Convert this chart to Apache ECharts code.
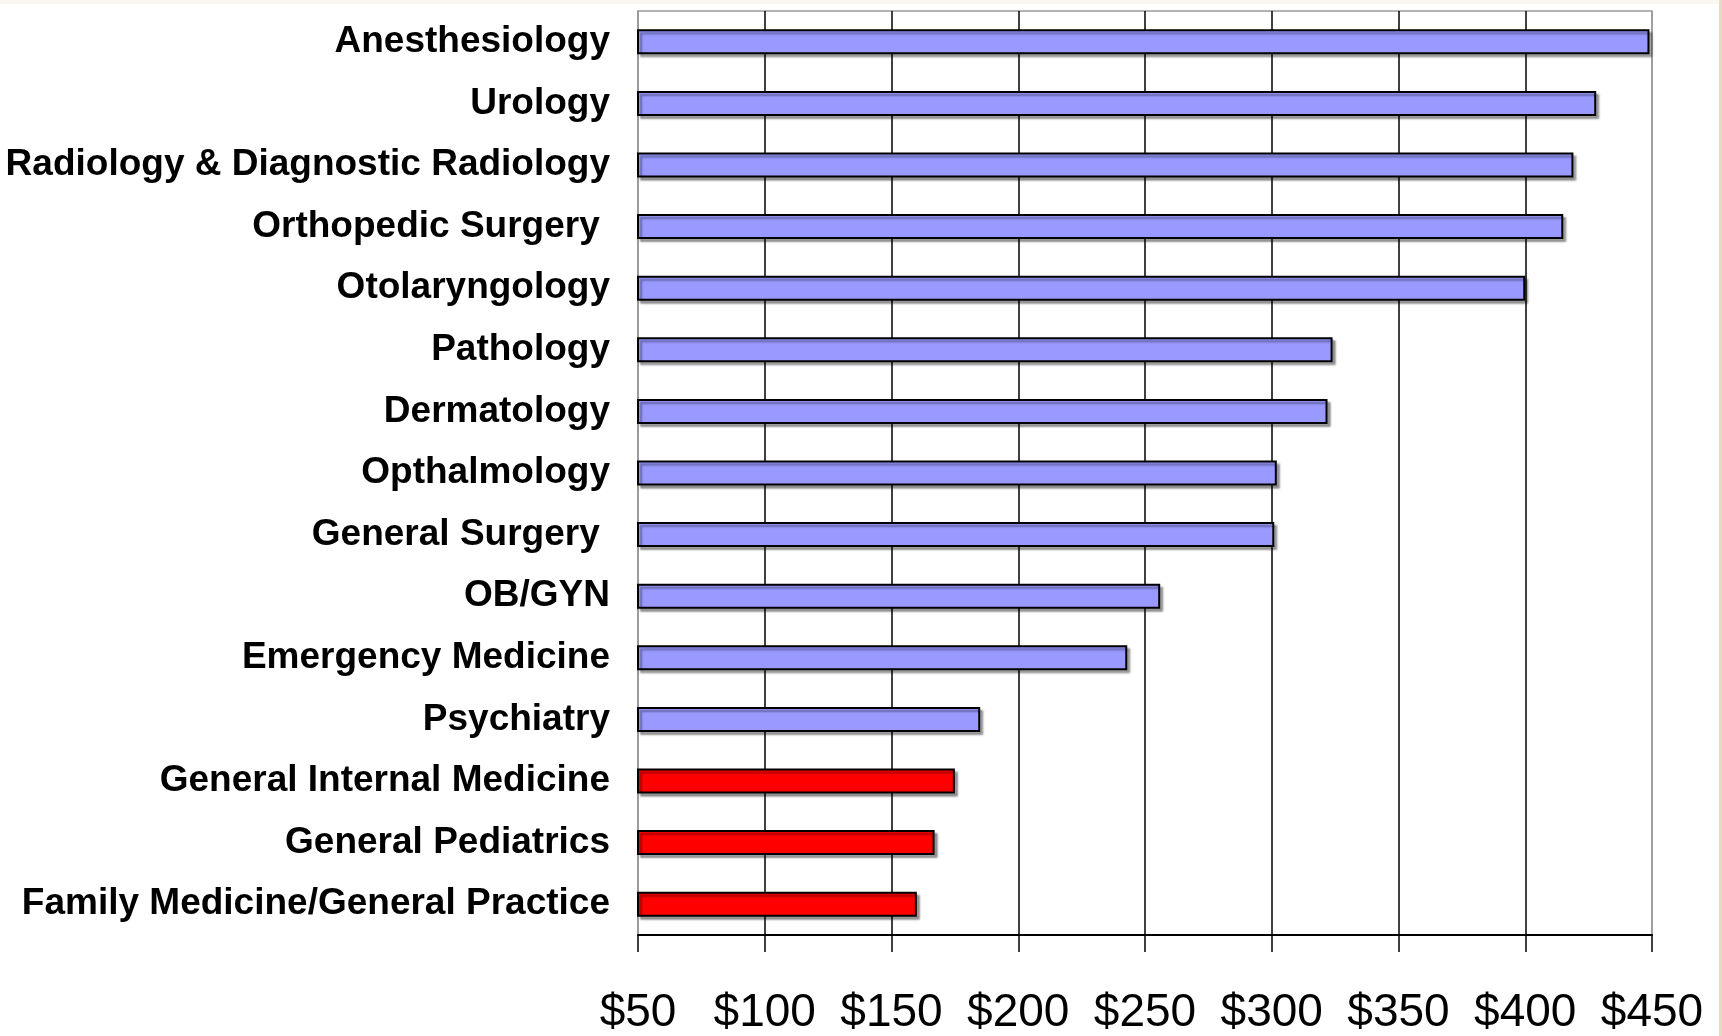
<!DOCTYPE html>
<html>
<head>
<meta charset="utf-8">
<script src="https://cdn.jsdelivr.net/npm/echarts@6/dist/echarts.min.js"></script>
<style>
  html, body { margin: 0; padding: 0; background: #ffffff; }
  #chart { width: 1722px; height: 1036px; }
</style>
</head>
<body>
<div id="chart"></div>
<script>
// Categories, top to bottom
const specialties = [
  "Anesthesiology",
  "Urology",
  "Radiology & Diagnostic Radiology",
  "Orthopedic Surgery ",
  "Otolaryngology",
  "Pathology",
  "Dermatology",
  "Opthalmology",
  "General Surgery ",
  "OB/GYN",
  "Emergency Medicine",
  "Psychiatry",
  "General Internal Medicine",
  "General Pediatrics",
  "Family Medicine/General Practice"
];
// Values in dollars
const values = [449, 428, 419, 415, 400, 324, 322, 302, 301, 256, 243, 185, 175, 167, 160];
// Primary-care categories (drawn in red)
const primaryCare = ["General Internal Medicine", "General Pediatrics", "Family Medicine/General Practice"];
// Axis tick range
const axisMin = 50;
const axisMax = 450;
const axisStep = 50;

const chart = echarts.init(document.getElementById('chart'), null, { renderer: 'canvas' });

const gridLineColors = [];
for (let v = axisMin; v <= axisMax; v += axisStep) {
  gridLineColors.push(v === axisMin || v === axisMax ? '#9a9a9a' : '#000000');
}

chart.setOption({
  backgroundColor: '#ffffff',
  animation: false,
  graphic: [
    { type: 'rect', shape: { x: 0, y: 0, width: 1722, height: 4 }, style: { fill: '#faf6f0' }, silent: true },
    { type: 'rect', shape: { x: 1719, y: 0, width: 3, height: 1036 }, style: { fill: '#e6dac4' }, silent: true }
  ],
  grid: {
    left: 638, right: 70, top: 11, bottom: 101,
    show: true, borderColor: '#9a9a9a', borderWidth: 1.5, backgroundColor: '#ffffff'
  },
  xAxis: {
    type: 'value',
    min: axisMin, max: axisMax, interval: axisStep,
    axisLine: { show: true, lineStyle: { color: '#000', width: 2 } },
    axisTick: { show: true, length: 17, lineStyle: { color: '#000', width: 1.5 } },
    splitLine: { show: true, lineStyle: { color: gridLineColors, width: 1.5 } },
    axisLabel: {
      margin: 55,
      fontFamily: 'Liberation Sans, Arial, sans-serif',
      fontSize: 46,
      color: '#000',
      formatter: v => '$' + v
    }
  },
  yAxis: {
    type: 'category',
    inverse: true,
    data: specialties,
    axisLine: { show: true, lineStyle: { color: '#9a9a9a', width: 1.5 } },
    axisTick: { show: false },
    axisLabel: {
      margin: 28,
      fontFamily: 'Liberation Sans, Arial, sans-serif',
      fontWeight: 'bold',
      fontSize: 37,
      color: '#000',
      padding: [4, 0, 0, 0]
    }
  },
  series: [{
    type: 'bar',
    data: values,
    barWidth: 25,
    clip: true,
    itemStyle: {
      color: p => primaryCare.includes(specialties[p.dataIndex]) ? '#ff0000' : '#9999ff',
      borderColor: '#000',
      borderWidth: 2,
      shadowColor: 'rgba(0,0,0,0.35)',
      shadowOffsetX: 3,
      shadowOffsetY: 3,
      shadowBlur: 2
    }
  }]
});
</script>
</body>
</html>
